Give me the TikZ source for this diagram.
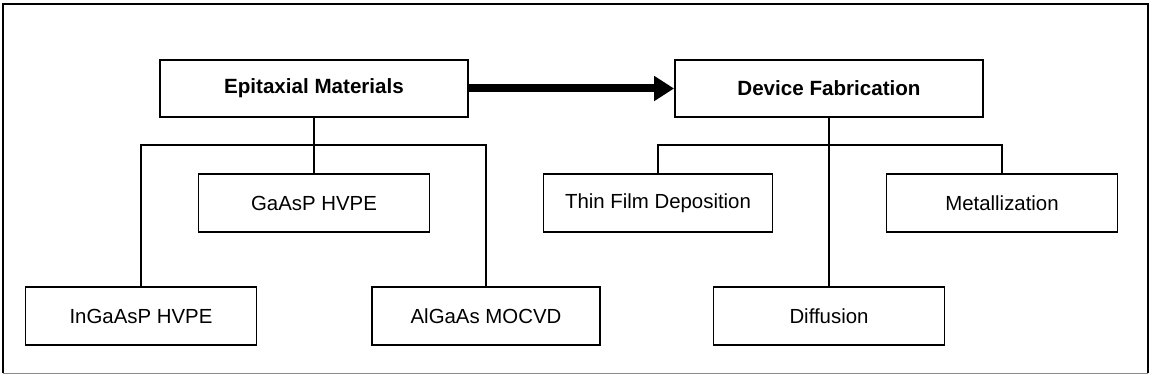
\documentclass[tikz,border=0pt]{standalone}
\usepackage{fontspec}
\setmainfont{Liberation Sans}
\usetikzlibrary{arrows.meta}
\begin{document}
\begin{tikzpicture}[x=1pt,y=-1pt,
  box/.style={draw, line width=1.9pt, inner sep=0pt, minimum height=58pt, font=\fontsize{20.4}{24}\selectfont},
  topbox/.style={box, minimum width=308pt, minimum height=57pt, font=\bfseries\fontsize{20.6}{24}\selectfont},
  subbox/.style={box, minimum width=231pt},
  conn/.style={line width=2.5pt},
  bigarrow/.style={line width=8pt, -{Triangle[length=20pt,width=24pt]}},
]
\useasboundingbox (0,0) rectangle (1153,385);
% frame
\draw[line width=1.3pt] (3,373) -- (3,4) -- (1148,4) -- (1148,373);
\draw[line width=0.8pt, black!45] (3,373) -- (1148,373);
% top boxes
\node[topbox] (epi) at (314,88.5) {Epitaxial Materials};
\node[topbox] (dev) at (829,88.5) {Device Fabrication};
% left branch
\node[subbox] (gaasp) at (314,203) {GaAsP HVPE};
\node[subbox] (ingaasp) at (141,316) {InGaAsP HVPE};
\node[subbox, minimum width=228pt] (algaas) at (486,316) {AlGaAs MOCVD};
% right branch
\node[subbox, minimum width=229pt] (thin) at (658,203) {Thin Film Deposition};
\node[subbox] (metal) at (1002,203) {Metallization};
\node[subbox] (diff) at (829,316) {Diffusion};
% bar coordinates
\coordinate (ebar) at (314,145);
\coordinate (dbar) at (829,145);
% connectors
\draw[conn] (epi.south) -- (gaasp.north);
\draw[conn] (ingaasp.north) |- (ebar) -| (algaas.north);
\draw[conn] (dev.south) -- (diff.north);
\draw[conn] (thin.north) |- (dbar) -| (metal.north);
\draw[bigarrow] (epi.east) -- (dev.west);
\end{tikzpicture}
\end{document}
